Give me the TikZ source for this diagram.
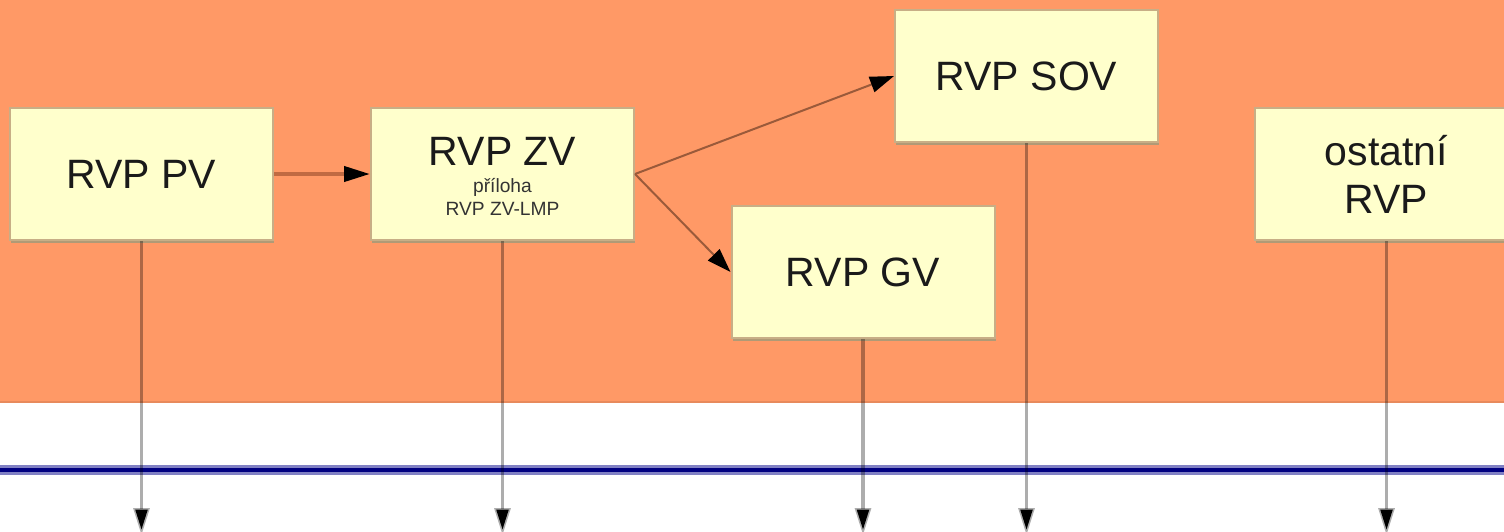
\documentclass[tikz,border=0pt]{standalone}
\usepackage{fontspec}
\setmainfont{Liberation Sans}
\usetikzlibrary{arrows.meta,calc,shadows}
\definecolor{bgorange}{HTML}{FF9966}
\definecolor{bgedge}{HTML}{E88A5C}
\definecolor{boxfill}{HTML}{FFFFCC}
\definecolor{boxedge}{HTML}{C8AE86}
\definecolor{boxshadow}{HTML}{B09A76}
\definecolor{flowbrown}{HTML}{9A5A3A}
\definecolor{flowthick}{HTML}{C06A42}
\definecolor{textdark}{HTML}{1A1A1A}
\definecolor{textsmall}{HTML}{333333}
\definecolor{bandblue}{HTML}{8080C4}
\definecolor{navyline}{HTML}{000080}
\tikzset{
  rvpbox/.style={draw=boxedge, line width=1pt, fill=boxfill,
    minimum width=131.5pt, minimum height=66pt, inner sep=0pt,
    drop shadow={shadow xshift=0.6pt, shadow yshift=-1.4pt, fill=boxshadow, opacity=1},
    font=\fontsize{20.5}{24}\selectfont, text=textdark, align=center},
  bigtxt/.style={font=\fontsize{20.5}{24}\selectfont, text=textdark, inner sep=0pt, anchor=base},
  smalltxt/.style={font=\fontsize{9.6}{12}\selectfont, text=textsmall, inner sep=0pt, anchor=base},
  flowthin/.style={draw=flowbrown, line width=1pt, -{Triangle[length=12pt,width=8pt,fill=black,color=black]}},
  flowthk/.style={draw=flowthick, line width=2pt, -{Triangle[length=13pt,width=7.5pt,fill=black,color=black]}},
  vline/.style={draw=black, draw opacity=0.32, line width=1.6pt},
  vtip/.style={draw=black, draw opacity=0.32, line width=1.6pt, -{Triangle[length=13.5pt,width=8pt,fill=black,color=black]}}
}
\begin{document}
\begin{tikzpicture}[x=0.5pt,y=-0.5pt]
\clip (0,0) rectangle (1504,531);
% background
\fill[bgorange] (0,0) rectangle (1504,403);
\draw[bgedge, line width=1.2pt] (0,402) -- (1504,402);
\fill[white] (0,403.6) rectangle (1504,531);
% blue band
\draw[bandblue, line width=5pt] (0,470) -- (1504,470);
\draw[navyline, line width=1.6pt] (0,470) -- (1504,470);
% boxes
\node[rvpbox] (pv) at (141.5,174) {RVP PV};
\node[rvpbox] (zv) at (502.5,174) {};
\node[bigtxt] (zvt) at (502.5,165) {RVP ZV};
\node[smalltxt] (zvs1) at (502.5,192) {příloha};
\node[smalltxt] (zvs2) at (502.5,215) {RVP ZV-LMP};
\node[rvpbox] (sov) at (1026.5,76) {RVP SOV};
\node[rvpbox] (gv) at (863,272) {RVP GV};
\node[rvpbox] (ost) at (1386.5,174) {ostatní\\[0pt]RVP};
% flow arrows
\draw[flowthk] (pv.east) -- (zv.west);
\draw[flowthin] (zv.east) -- (sov.west);
\draw[flowthin] (zv.east) -- (gv.west);
% vertical arrows
\coordinate (pvend) at (141.5,535);
\coordinate (zvend) at (502.5,535);
\coordinate (gvend) at (863,535);
\coordinate (sovend) at (1026.5,535);
\coordinate (ostend) at (1386.5,535);
\foreach \b/\e in {pv/pvend, zv/zvend, gv/gvend, sov/sovend, ost/ostend}{
  \draw[vline] (\b.south) -- ($(\e)+(0,-40)$);
  \draw[vtip] ($(\e)+(0,-40)$) -- (\e);
}
\end{tikzpicture}
\end{document}
